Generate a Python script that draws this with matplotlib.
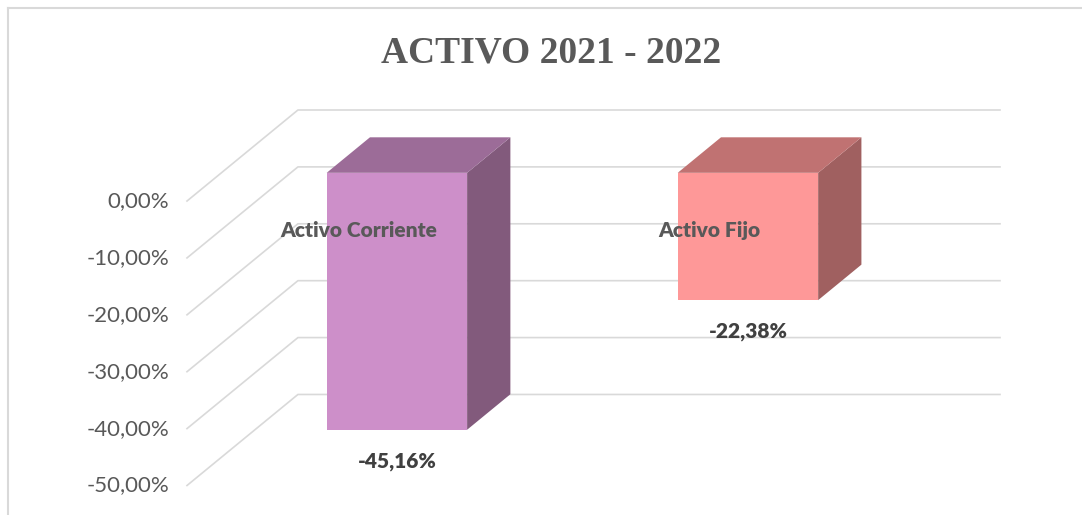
import numpy as np
import matplotlib
matplotlib.use('Agg')
import matplotlib.pyplot as plt
from matplotlib.lines import Line2D

# data
aCategory = ['Activo Corriente', 'Activo Fijo']
aValue = [-45.16, -22.38]
aValue_label = ['-45,16%', '-22,38%']
aTick = [0, -10, -20, -30, -40, -50]
aTick_label = ['0,00%', '-10,00%', '-20,00%', '-30,00%', '-40,00%', '-50,00%']

# colours: front, side, top
aColor_front = ['#CD8FC9', '#FE9898']
aColor_side = ['#825A7C', '#A06060']
aColor_top = ['#9C6C98', '#C07272']

# fake 3d projection: depth z in 0 (front) .. 1 (back wall)
dDepth_x = 0.316
dDepth_y = 16.0
dBar_width = 0.4
dBar_z0 = 0.31
dBar_z1 = 0.70


def project(x, v, z):
    return x + z * dDepth_x, v + z * dDepth_y


W, H = 1082, 515
fig = plt.figure(figsize=(W / 100, H / 100), dpi=100)
ax = fig.add_axes([187 / W, (H - 485.5) / H, 813 / W, 375.5 / H])
ax.set_xlim(0, 2 + dDepth_x)
ax.set_ylim(-50, dDepth_y)
ax.axis('off')

ncat = len(aCategory)
sGrid = '#d9d9d9'
for v in aTick:
    x0, y0 = project(0, v, 0)
    x1, y1 = project(0, v, 1)
    x2, y2 = project(ncat, v, 1)
    ax.plot([x0, x1, x2], [y0, y1, y2], color=sGrid, lw=1.2, clip_on=False, zorder=1)

for i in range(ncat):
    xl = i + 0.5 - dBar_width / 2
    xr = i + 0.5 + dBar_width / 2
    v = aValue[i]
    # front face
    pts = [project(xl, 0, dBar_z0), project(xr, 0, dBar_z0),
           project(xr, v, dBar_z0), project(xl, v, dBar_z0)]
    # side face
    pside = [project(xr, 0, dBar_z0), project(xr, 0, dBar_z1),
             project(xr, v, dBar_z1), project(xr, v, dBar_z0)]
    # top face
    ptop = [project(xl, 0, dBar_z0), project(xl, 0, dBar_z1),
            project(xr, 0, dBar_z1), project(xr, 0, dBar_z0)]
    for aPts, sColor in [(pside, aColor_side[i]), (ptop, aColor_top[i]), (pts, aColor_front[i])]:
        ax.fill([p[0] for p in aPts], [p[1] for p in aPts], color=sColor, lw=0, zorder=3, clip_on=False)

    # category label (inside bar, near top) and value label (below bar)
    xc, yc = project(i + 0.5, -10.2, dBar_z0)
    ax.text(xc - 0.11, yc, aCategory[i], ha='center', va='center', fontsize=15,
            fontweight='heavy', color='#595959', family='Lato', zorder=5)
    xc, yc = project(i + 0.5, v - 5.5, dBar_z0)
    ax.text(xc, yc, aValue_label[i], ha='center', va='center', fontsize=15,
            fontweight='heavy', color='#404040', family='Lato', zorder=5)

# y tick labels at the front floor edge
for v, s in zip(aTick, aTick_label):
    ax.text(-0.05, v, s, ha='right', va='center', fontsize=16, color='#595959',
            family='Lato', clip_on=False)

fig.text(551 / W, 1 - 53 / H, 'ACTIVO 2021 - 2022', ha='center', va='center',
         fontsize=27, fontweight='bold', color='#595959', family='Liberation Serif')

# chart area border (top and left only visible)
fig.add_artist(Line2D([8 / W, 1], [1 - 8 / H, 1 - 8 / H], color='#d9d9d9', lw=1.5,
                      transform=fig.transFigure))
fig.add_artist(Line2D([8 / W, 8 / W], [0, 1 - 8 / H], color='#d9d9d9', lw=1.5,
                      transform=fig.transFigure))

fig.savefig('out.png', dpi=100)
